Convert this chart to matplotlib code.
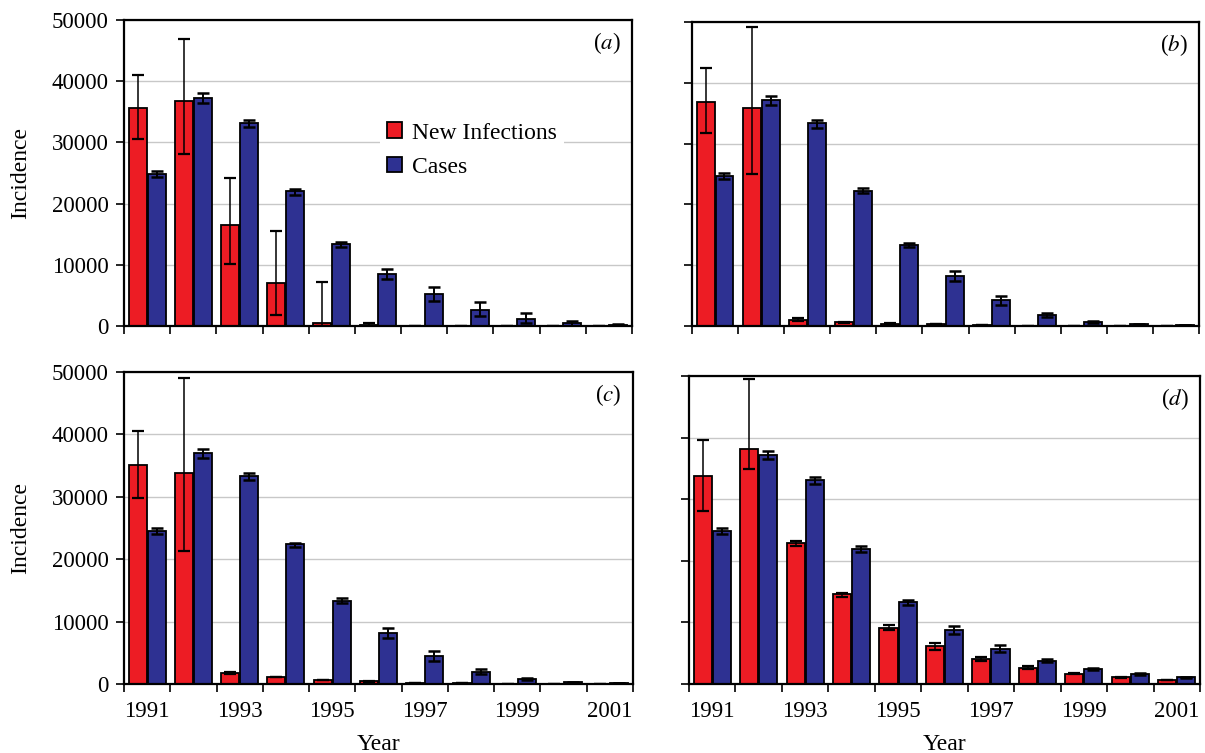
import numpy as np
import matplotlib
matplotlib.use("Agg")
import matplotlib.pyplot as plt

plt.rcParams['font.family'] = ['Liberation Serif', 'DejaVu Serif']
plt.rcParams['mathtext.fontset'] = 'stix'

years = ["1991", "1992", "1993", "1994", "1995", "1996", "1997", "1998", "1999", "2000", "2001"]

# (a)
inf_a = [35700, 36700, 16450, 7050, 490, 100, 30, 20, 10, 10, 10]
inf_a_hi = [41000, 46900, 24200, 15570, 7160, 550, 30, 20, 10, 10, 10]
inf_a_lo = [30600, 28100, 10050, 1860, 0, 0, 0, 0, 0, 0, 0]
cas_a = [24900, 37200, 33170, 22020, 13330, 8520, 5190, 2680, 1090, 440, 220]
cas_a_hi = [25400, 38000, 33700, 22460, 13660, 9340, 6390, 3990, 2190, 870, 320]
cas_a_lo = [24400, 36500, 32570, 21480, 12950, 7600, 4040, 1640, 440, 0, 120]

# (b)
inf_b = [36860, 35920, 1050, 600, 390, 275, 165, 55, 20, 20, 20]
inf_b_hi = [42370, 49150, 1320, 700, 440, 300, 180, 60, 20, 20, 20]
inf_b_lo = [31790, 24960, 830, 520, 350, 250, 150, 50, 20, 20, 20]
cas_b = [24740, 37250, 33330, 22260, 13330, 8150, 4240, 1870, 660, 275, 165]
cas_b_hi = [25230, 37850, 33940, 22640, 13720, 8980, 4960, 2150, 760, 320, 200]
cas_b_lo = [24190, 36420, 32620, 21870, 13000, 7380, 3530, 1490, 560, 230, 130]

# (c)
inf_c = [35030, 33850, 1760, 1120, 640, 430, 210, 100, 20, 10, 10]
inf_c_hi = [40530, 48980, 1950, 1200, 700, 470, 230, 110, 20, 10, 10]
inf_c_lo = [29840, 21390, 1600, 1050, 590, 390, 190, 90, 20, 10, 10]
cas_c = [24440, 36950, 33320, 22410, 13370, 8180, 4490, 1980, 750, 320, 160]
cas_c_hi = [24920, 37650, 33850, 22670, 13800, 9040, 5350, 2410, 900, 400, 200]
cas_c_lo = [24010, 36260, 32620, 21980, 12940, 7330, 3640, 1550, 600, 240, 120]

# (d)
inf_d = [33750, 38150, 22880, 14570, 9130, 6090, 4080, 2660, 1680, 1090, 650]
inf_d_hi = [39570, 49570, 23260, 14840, 9510, 6680, 4350, 2880, 1800, 1170, 710]
inf_d_lo = [28040, 34950, 22450, 14180, 8750, 5540, 3800, 2500, 1560, 1010, 590]
cas_d = [24890, 37170, 33150, 21960, 13320, 8700, 5760, 3800, 2500, 1630, 1090]
cas_d_hi = [25380, 37880, 33640, 22450, 13700, 9400, 6360, 4080, 2650, 1750, 1170]
cas_d_lo = [24400, 36470, 32500, 21410, 12880, 8150, 5270, 3530, 2350, 1510, 1010]

panels = [
    ("a", inf_a, inf_a_hi, inf_a_lo, cas_a, cas_a_hi, cas_a_lo),
    ("b", inf_b, inf_b_hi, inf_b_lo, cas_b, cas_b_hi, cas_b_lo),
    ("c", inf_c, inf_c_hi, inf_c_lo, cas_c, cas_c_hi, cas_c_lo),
    ("d", inf_d, inf_d_hi, inf_d_lo, cas_d, cas_d_hi, cas_d_lo),
]

W, H = 1205, 753


def pix_box(x0, y0, x1, y1):
    # pixel edges (top-left origin) -> figure fraction rect
    return [x0 / W, 1 - y1 / H, (x1 - x0) / W, (y1 - y0) / H]


boxes = {
    "a": pix_box(124, 20, 632, 326),
    "b": pix_box(692, 22, 1199, 326),
    "c": pix_box(124, 372, 633, 684),
    "d": pix_box(689, 376, 1200, 684),
}

red = "#ED1C24"
blue = "#2E3192"
fs = 16.5

fig = plt.figure(figsize=(W / 100, H / 100), dpi=100)
x = np.arange(len(years))
w = 0.39

for tag, inf, inf_hi, inf_lo, cas, cas_hi, cas_lo in panels:
    ax = fig.add_axes(boxes[tag])
    inf = np.array(inf)
    cas = np.array(cas)
    err_i = [inf - np.array(inf_lo), np.array(inf_hi) - inf]
    err_c = [cas - np.array(cas_lo), np.array(cas_hi) - cas]
    ax.bar(x - 0.205, inf, w, color=red, edgecolor="black", linewidth=1.3,
           label="New Infections", zorder=2)
    ax.bar(x + 0.205, cas, w, color=blue, edgecolor="black", linewidth=1.3,
           label="Cases", zorder=2)
    ax.errorbar(x - 0.205, inf, yerr=err_i, fmt="none", ecolor="black",
                elinewidth=1.1, capsize=4, capthick=1.6, zorder=3)
    ax.errorbar(x + 0.205, cas, yerr=err_c, fmt="none", ecolor="black",
                elinewidth=1.4, capsize=4, capthick=1.8, zorder=3)

    ax.set_xlim(-0.5, len(years) - 0.5)
    ax.set_ylim(0, 50000)
    ax.set_yticks(np.arange(0, 50001, 10000))
    ax.yaxis.grid(True, color="#c8c8c8", linewidth=1.0, zorder=0)
    ax.set_axisbelow(True)

    ax.set_xticks(np.arange(-0.5, len(years)), minor=False)
    ax.set_xticklabels([])
    ax.set_xticks(x[::2], minor=True)
    ax.tick_params(axis="x", which="major", direction="out", length=6, width=1.2)
    ax.tick_params(axis="x", which="minor", length=0, labelsize=fs, pad=12)
    ax.tick_params(axis="y", direction="out", length=6, width=1.2, labelsize=fs,
                   pad=5)
    for s in ax.spines.values():
        s.set_linewidth(1.6)

    if tag in ("c", "d"):
        ax.set_xticklabels(years[::2], minor=True)
        ax.set_xlabel("Year", fontsize=17, labelpad=9)
    if tag in ("a", "c"):
        ax.set_ylabel("Incidence", fontsize=17, labelpad=15)
    else:
        ax.set_yticklabels([])

    ax.text(0.978, 0.925, r"($\mathit{" + tag + "}$)", transform=ax.transAxes,
            ha="right", va="center", fontsize=fs)

    if tag == "a":
        leg = ax.legend(loc="center left", bbox_to_anchor=(0.504, 0.575), fontsize=17,
                        frameon=True, fancybox=False, handlelength=0.65,
                        handleheight=0.65, handletextpad=0.4, borderpad=0.3,
                        borderaxespad=0, labelspacing=0.55)
        leg.get_frame().set_edgecolor("none")
        leg.get_frame().set_facecolor("white")
        leg.get_frame().set_alpha(1.0)

fig.savefig("out.png", dpi=100)
